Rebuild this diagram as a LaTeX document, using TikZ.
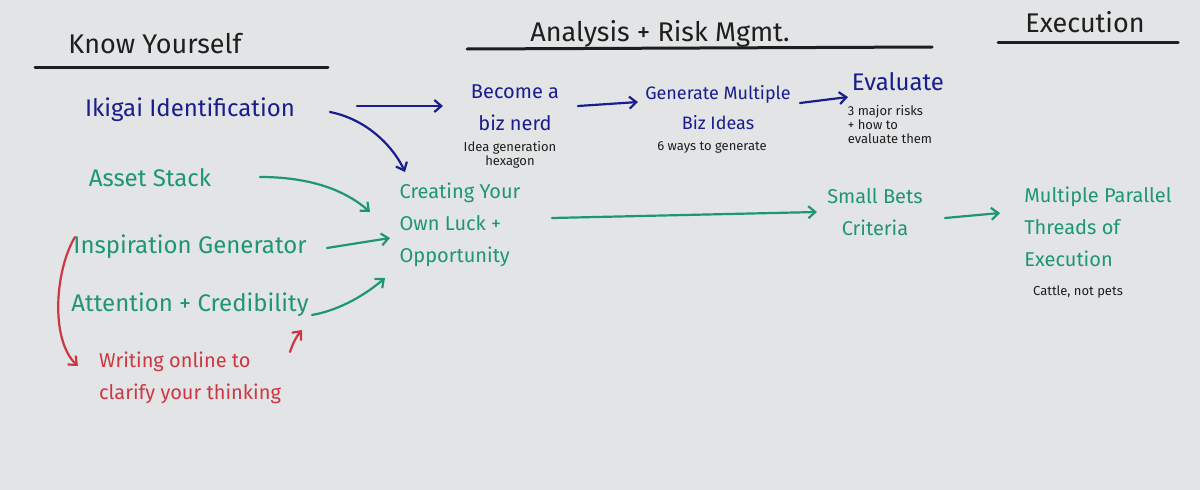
\documentclass[tikz,border=0pt]{standalone}
\usepackage{fontspec}
\setmainfont{Fira Sans}
\usetikzlibrary{arrows.meta}
\definecolor{board}{RGB}{226,228,229}
\definecolor{bluem}{RGB}{25,30,140}
\definecolor{greenm}{RGB}{30,150,118}
\definecolor{redm}{RGB}{205,55,65}
\definecolor{blackm}{RGB}{30,30,30}
\tikzset{
  big/.style={font=\fontsize{24}{32}\selectfont, align=center},
  mid/.style={font=\fontsize{20}{32}\selectfont, align=center},
  head/.style={font=\fontsize{27}{30}\selectfont, text=blackm},
  small/.style={font=\fontsize{13}{14}\selectfont, text=blackm, align=center},
  pen/.style={line width=2.2pt, line cap=round, -{Straight Barb[length=7pt,width=12pt]}},
  rule/.style={line width=3pt, blackm, line cap=round}
}
\begin{document}
\begin{tikzpicture}[x=1pt,y=-1pt]
\fill[board] (0,0) rectangle (1200,490);
\useasboundingbox (0,0) rectangle (1200,490);
% headings
\node[head] (h1) at (155,44) {Know Yourself};
\draw[rule] (35,67) -- (328,67);
\node[head] (h2) at (660,34) {Analysis + Risk Mgmt.};
\draw[rule] (467,49) -- (932,47);
\node[head] (h3) at (1085,22) {Execution};
\draw[rule] (998,42) -- (1178,42);
% blue
\node[big,text=bluem] (iki) at (190,110) {Ikigai Identification};
\node[mid,text=bluem] (nerd) at (515,108) {Become a\\biz nerd};
\node[small] (nerds) at (510,155) {Idea generation\\hexagon};
\node[mid,text=bluem,font=\fontsize{18}{30}\selectfont] (gen) at (718,108) {Generate Multiple\\Biz Ideas};
\node[small] (gens) at (712,147) {6 ways to generate};
\node[big,text=bluem] (eva) at (898,82) {Evaluate};
\node[small,align=left] (evas) at (890,125) {3 major risks\\+ how to\\evaluate them};
% green
\node[big,text=greenm] (asset) at (150,178) {Asset Stack};
\node[big,text=greenm] (insp) at (190,247) {Inspiration Generator};
\node[big,text=greenm] (att) at (190,305) {Attention + Credibility};
\node[mid,text=greenm,align=left] (luck) at (460,225) {Creating Your\\Own Luck +\\Opportunity};
\node[mid,text=greenm] (bets) at (875,212) {Small Bets\\Criteria};
\node[mid,text=greenm,align=left] (multi) at (1098,227) {Multiple Parallel\\Threads of\\Execution};
\node[small] (cattle) at (1078,292) {Cattle, not pets};
% red
\node[mid,text=redm,align=left] (writ) at (190,378) {Writing online to\\clarify your thinking};
% arrows blue
\draw[pen,bluem] (357,106) -- (443,106);
\draw[pen,bluem] (330,112) .. controls (370,120) and (395,150) .. (405,172);
\draw[pen,bluem] (578,106) -- (638,102);
\draw[pen,bluem] (800,103) -- (848,97);
% arrows green
\draw[pen,greenm] (260,177) .. controls (310,177) and (345,190) .. (370,212);
\draw[pen,greenm] (327,248) -- (390,238);
\draw[pen,greenm] (312,315) .. controls (340,310) and (365,295) .. (385,278);
\draw[pen,greenm] (552,218) -- (817,212);
\draw[pen,greenm] (945,218) -- (1000,213);
% red
\draw[pen,redm] (75,237) .. controls (55,270) and (50,340) .. (78,366);
\draw[pen,redm] (290,352) .. controls (293,343) and (296,337) .. (302,330);
\end{tikzpicture}
\end{document}
